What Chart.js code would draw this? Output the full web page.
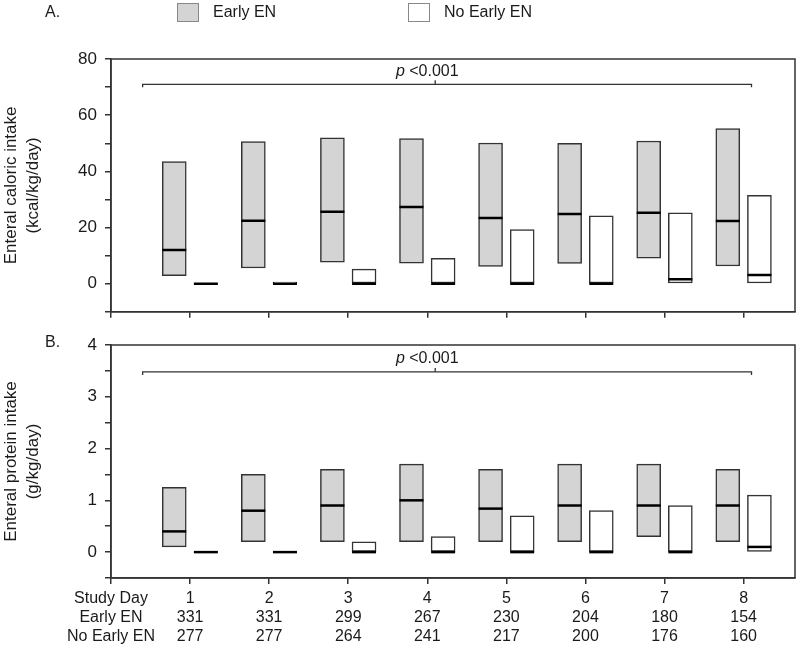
<!DOCTYPE html>
<html>
<head>
<meta charset="utf-8">
<script src="https://cdn.jsdelivr.net/npm/chart.js@4"></script>
<style>
  body { margin: 0; background: #fff; }
  #wrap { position: relative; width: 800px; height: 646px; }
  #chartA { position: absolute; left: 0; top: 0; }
  #chartB { position: absolute; left: 0; top: 320px; }
</style>
</head>
<body>
<div id="wrap">
  <canvas id="chartA" width="800" height="330"></canvas>
  <canvas id="chartB" width="800" height="326"></canvas>
</div>
<script>
// jours d'étude et effectifs
var days = [1, 2, 3, 4, 5, 6, 7, 8];
var nEarly = [331, 331, 299, 267, 230, 204, 180, 154];
var nNoEarly = [277, 277, 264, 241, 217, 200, 176, 160];
var rowTitles = ['Study Day', 'Early EN', 'No Early EN'];
var seriesNames = ['Early EN', 'No Early EN'];

// A. apport calorique entéral (kcal/kg/day) : Q1, médiane, Q3
var kcalEarlyQ1 = [2.9, 5.6, 7.7, 7.3, 6.2, 7.2, 9.1, 6.3];
var kcalEarlyMed = [12.0, 22.4, 25.6, 27.3, 23.4, 24.8, 25.3, 22.3];
var kcalEarlyQ3 = [43.5, 50.6, 51.9, 51.7, 50.1, 50.0, 50.8, 55.2];
var kcalNoQ1 = [0, 0, 0, 0, 0, 0, 0, 0];
var kcalNoMed = [0, 0, 0, 0, 0, 0, 1.6, 3.1];
var kcalNoQ3 = [0, 0.6, 5.2, 9.0, 19.3, 24.2, 25.2, 31.5];

// B. apport protéique entéral (g/kg/day)
var protEarlyQ1 = [0.1, 0.2, 0.2, 0.2, 0.2, 0.2, 0.3, 0.2];
var protEarlyMed = [0.4, 0.8, 0.9, 1.0, 0.84, 0.9, 0.9, 0.9];
var protEarlyQ3 = [1.25, 1.5, 1.6, 1.7, 1.6, 1.7, 1.7, 1.6];
var protNoQ1 = [0, 0, 0, 0, 0, 0, 0, 0];
var protNoMed = [0, 0, 0, 0, 0, 0, 0, 0.1];
var protNoQ3 = [0, 0, 0.2, 0.3, 0.7, 0.8, 0.9, 1.1];

var pLabel = '<0.001';

Chart.defaults.font.family = '"Liberation Sans", Arial, sans-serif';
Chart.defaults.color = '#1a1a1a';

var FONT = '"Liberation Sans", Arial, sans-serif';
var LINE = '#333';

function boxData(q1, q3, offset) {
  return days.map(function (d, i) { return { x: d + offset, y: [q1[i], q3[i]] }; });
}
function medData(med, offset) {
  return days.map(function (d, i) { return { x: d + offset, y: med[i] }; });
}

// cadre, crochet p<0.001, légende et lettre du panneau
var decorPlugin = {
  id: 'decor',
  afterDatasetsDraw: function (chart, args, opts) {
    var ctx = chart.ctx;
    var a = chart.chartArea;
    var xs = chart.scales.x, ys = chart.scales.y;
    ctx.save();
    ctx.strokeStyle = LINE;
    ctx.lineWidth = 1.5;
    ctx.strokeRect(a.left, a.top, a.right - a.left, a.bottom - a.top);

    // crochet
    var x1 = xs.getPixelForValue(opts.from), x2 = xs.getPixelForValue(opts.to);
    var xm = xs.getPixelForValue(opts.mid);
    var by = ys.getPixelForValue(opts.y);
    ctx.lineWidth = 1.3;
    ctx.beginPath();
    ctx.moveTo(x1, by + 3); ctx.lineTo(x1, by); ctx.lineTo(x2, by); ctx.lineTo(x2, by + 3);
    ctx.moveTo(xm, by); ctx.lineTo(xm, by - 4);
    ctx.stroke();

    var tx = xs.getPixelForValue(opts.textX), ty = ys.getPixelForValue(opts.textY);
    ctx.fillStyle = '#1a1a1a';
    ctx.textBaseline = 'middle';
    ctx.font = 'italic 16px ' + FONT;
    var w1 = ctx.measureText('p ').width;
    ctx.font = '16px ' + FONT;
    var w2 = ctx.measureText(pLabel).width;
    var sx = tx - (w1 + w2) / 2;
    ctx.textAlign = 'left';
    ctx.font = 'italic 16px ' + FONT;
    ctx.fillText('p', sx, ty);
    ctx.font = '16px ' + FONT;
    ctx.fillText(pLabel, sx + w1, ty);

    // lettre
    ctx.fillText(opts.letter, 45, opts.letterY);

    // légende
    if (opts.legend) {
      var ds = chart.data.datasets;
      var items = [[177, 0], [408, 1]];
      items.forEach(function (it) {
        ctx.fillStyle = ds[it[1]].backgroundColor;
        ctx.fillRect(it[0], 3, 22, 19);
        ctx.strokeStyle = '#888';
        ctx.lineWidth = 1;
        ctx.strokeRect(it[0] + 0.5, 3.5, 21, 18);
        ctx.fillStyle = '#1a1a1a';
        ctx.fillText(seriesNames[it[1]], it[0] + 36, 13);
      });
    }
    ctx.restore();
  }
};

function makeChart(id, p) {
  var ctx = document.getElementById(id).getContext('2d');
  var config = {
    type: 'bar',
    data: {
      datasets: [
        {
          label: seriesNames[0], data: boxData(p.eQ1, p.eQ3, -0.2),
          backgroundColor: '#d4d4d4', borderColor: LINE, borderWidth: 1.5,
          borderSkipped: false, barThickness: 24, grouped: false, order: 2
        },
        {
          label: seriesNames[1], data: boxData(p.nQ1, p.nQ3, 0.2),
          backgroundColor: '#ffffff', borderColor: LINE, borderWidth: 1.5,
          borderSkipped: false, barThickness: 24, grouped: false, order: 2
        },
        {
          type: 'line', label: 'median early', data: medData(p.eMed, -0.2),
          showLine: false, pointStyle: 'line', pointRadius: 12, pointHoverRadius: 12,
          pointBorderWidth: 2.5, pointBorderColor: '#000', borderColor: '#000', order: 0
        },
        {
          type: 'line', label: 'median no early', data: medData(p.nMed, 0.2),
          showLine: false, pointStyle: 'line', pointRadius: 12, pointHoverRadius: 12,
          pointBorderWidth: 2.5, pointBorderColor: '#000', borderColor: '#000', order: 0
        }
      ]
    },
    options: {
      responsive: false,
      animation: false,
      layout: { autoPadding: false, padding: { top: p.padTop, right: 5, left: 0, bottom: 0 } },
      plugins: {
        legend: { display: false },
        tooltip: { enabled: false },
        decor: {
          from: 0.4, to: 8.1, mid: 4.1, y: p.bracketY,
          textX: 4.0, textY: p.textY,
          letter: p.letter, letterY: p.letterY, legend: p.legend
        }
      },
      scales: {
        x: {
          type: 'linear', min: 0, max: 8.65, offset: false,
          afterFit: function (s) { s.height = p.xHeight; },
          grid: { display: true, drawOnChartArea: false, drawTicks: true, tickLength: 6, color: LINE, lineWidth: 1.5, offset: false },
          border: { display: true, color: LINE, width: 1.5 },
          ticks: {
            stepSize: 1, includeBounds: false, autoSkip: false, maxRotation: 0,
            padding: 5,
            font: { size: 16, lineHeight: 1.2 },
            callback: function (v) {
              if (!p.xLabels) return '';
              if (v === 0) return rowTitles;
              var i = days.indexOf(v);
              if (i < 0) return '';
              return [String(v), String(nEarly[i]), String(nNoEarly[i])];
            }
          }
        },
        y: {
          min: p.yMin, max: p.yMax,
          afterFit: function (s) { s.width = 111; },
          grid: { display: true, drawOnChartArea: false, drawTicks: true, tickLength: 6, color: LINE, lineWidth: 1.5 },
          border: { display: true, color: LINE, width: 1.5 },
          title: {
            display: true, text: p.yTitle,
            font: { size: 17, lineHeight: 1.3 },
            padding: { top: 0, bottom: 0 }
          },
          ticks: {
            stepSize: p.yStep, padding: 8, autoSkip: false,
            font: { size: 17 },
            callback: function (v) {
              var r = v / p.yMajor;
              return (v >= 0 && Math.abs(r - Math.round(r)) < 1e-6) ? v : '';
            }
          }
        }
      }
    },
    plugins: [decorPlugin]
  };
  return new Chart(ctx, config);
}

makeChart('chartA', {
  eQ1: kcalEarlyQ1, eMed: kcalEarlyMed, eQ3: kcalEarlyQ3,
  nQ1: kcalNoQ1, nMed: kcalNoMed, nQ3: kcalNoQ3,
  yMin: -10, yMax: 80, yStep: 10, yMajor: 20,
  yTitle: ['Enteral caloric intake', '(kcal/kg/day)'],
  padTop: 59, xHeight: 13, xLabels: false,
  bracketY: 71, textY: 75.4, letter: 'A.', letterY: 13, legend: true
});

makeChart('chartB', {
  eQ1: protEarlyQ1, eMed: protEarlyMed, eQ3: protEarlyQ3,
  nQ1: protNoQ1, nMed: protNoMed, nQ3: protNoQ3,
  yMin: -0.5, yMax: 4, yStep: 0.5, yMajor: 1,
  yTitle: ['Enteral protein intake', '(g/kg/day)'],
  padTop: 25, xHeight: 68, xLabels: true,
  bracketY: 3.48, textY: 3.74, letter: 'B.', letterY: 23, legend: false
});
</script>
</body>
</html>
